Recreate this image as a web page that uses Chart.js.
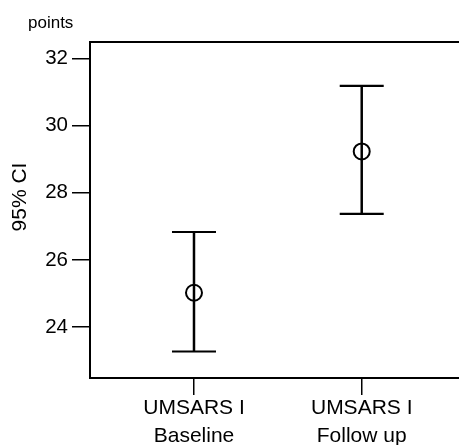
<!DOCTYPE html>
<html>
<head>
<meta charset="utf-8">
<script src="https://cdn.jsdelivr.net/npm/chart.js@4.4.1/dist/chart.umd.min.js"></script>
<style>
  html, body { margin: 0; padding: 0; background: #fff; }
  #wrap { width: 459px; height: 445px; }
</style>
</head>
<body>
<div id="wrap"><canvas id="ciChart" width="459" height="445"></canvas></div>
<script>
// values
const categories = [['UMSARS I', 'Baseline'], ['UMSARS I', 'Follow up']];
const means = [25.02, 29.23];
const lower = [23.27, 27.37];
const upper = [26.83, 31.18];
const yTicks = [24, 26, 28, 30, 32];
const yTitle = '95% CI';
const unitLabel = 'points';

const FONT = '"Liberation Sans", Arial, Helvetica, sans-serif';

// error bars + frame + extra labels
const ciPlugin = {
    id: 'ciPlugin',
    beforeDatasetsDraw(chart) {
        const ctx = chart.ctx;
        const x = chart.scales.x;
        const y = chart.scales.y;
        ctx.save();
        ctx.strokeStyle = '#000';
        means.forEach((m, i) => {
            const px = x.getPixelForValue(i);
            const top = y.getPixelForValue(upper[i]);
            const bot = y.getPixelForValue(lower[i]);
            ctx.lineWidth = 2.5;
            ctx.beginPath();
            ctx.moveTo(px, top);
            ctx.lineTo(px, bot);
            ctx.stroke();
            ctx.lineWidth = 2.2;
            ctx.beginPath();
            ctx.moveTo(px - 22, top);
            ctx.lineTo(px + 22, top);
            ctx.moveTo(px - 22, bot);
            ctx.lineTo(px + 22, bot);
            ctx.stroke();
        });
        ctx.restore();
    },
    afterDraw(chart) {
        const ctx = chart.ctx;
        const area = chart.chartArea;
        ctx.save();
        // top frame line
        ctx.strokeStyle = '#000';
        ctx.lineWidth = 2;
        ctx.beginPath();
        ctx.moveTo(area.left - 1, area.top);
        ctx.lineTo(chart.width, area.top);
        ctx.stroke();

        ctx.fillStyle = '#000';
        ctx.font = '17px ' + FONT;
        ctx.textAlign = 'left';
        ctx.textBaseline = 'alphabetic';
        ctx.fillText(unitLabel, 28, 28);

        ctx.translate(20, 197);
        ctx.rotate(-Math.PI / 2);
        ctx.font = '21px ' + FONT;
        ctx.textAlign = 'center';
        ctx.textBaseline = 'middle';
        ctx.fillText(yTitle, 0, 0);
        ctx.restore();
    }
};

new Chart(document.getElementById('ciChart'), {
    type: 'scatter',
    data: {
        datasets: [{
            data: means.map((m, i) => ({ x: i, y: m })),
            pointStyle: 'circle',
            pointRadius: 8,
            pointHoverRadius: 8,
            pointBackgroundColor: 'rgba(0,0,0,0)',
            pointBorderColor: '#000',
            pointBorderWidth: 2,
            clip: false
        }]
    },
    options: {
        responsive: false,
        animation: false,
        devicePixelRatio: 1,
        layout: { autoPadding: false, padding: { top: 42, right: 0, left: 0, bottom: 0 } },
        plugins: {
            legend: { display: false },
            tooltip: { enabled: false }
        },
        scales: {
            x: {
                type: 'linear',
                min: -0.62,
                max: 1.58,
                afterBuildTicks(scale) {
                    scale.ticks = categories.map((c, i) => ({ value: i }));
                },
                afterFit(scale) { scale.height = 67; },
                ticks: {
                    callback: (v) => categories[v],
                    color: '#000',
                    font: { family: FONT, size: 21, lineHeight: 1.3 },
                    padding: 0,
                    maxRotation: 0,
                    autoSkip: false
                },
                grid: {
                    drawOnChartArea: false,
                    drawTicks: true,
                    tickLength: 17,
                    color: '#000',
                    lineWidth: 1.5
                },
                border: { display: true, color: '#000', width: 2 }
            },
            y: {
                min: 22.48,
                max: 32.49,
                afterBuildTicks(scale) {
                    scale.ticks = yTicks.map(v => ({ value: v }));
                },
                afterFit(scale) { scale.width = 90; },
                ticks: {
                    color: '#000',
                    font: { family: FONT, size: 20.5 },
                    padding: 4
                },
                grid: {
                    drawOnChartArea: false,
                    drawTicks: true,
                    tickLength: 18,
                    color: '#000',
                    lineWidth: 1.5
                },
                border: { display: true, color: '#000', width: 2 }
            }
        }
    },
    plugins: [ciPlugin]
});
</script>
</body>
</html>
